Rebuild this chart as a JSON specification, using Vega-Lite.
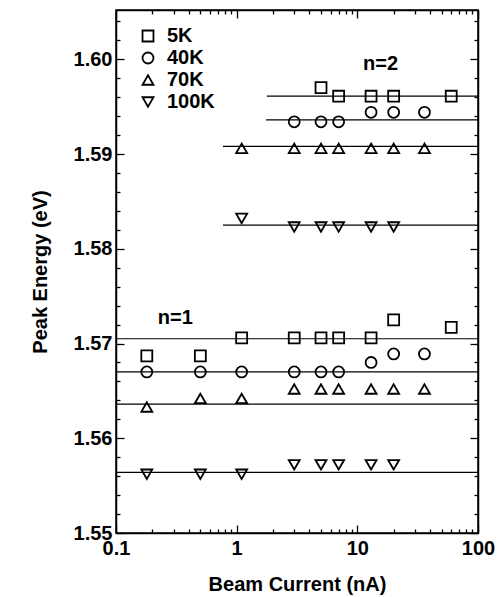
{
  "$schema": "https://vega.github.io/schema/vega-lite/v6.json",
  "width": 362,
  "height": 523,
  "autosize": {"type": "none"},
  "padding": {"left": 116, "top": 10, "right": 20, "bottom": 64},
  "config": {
    "view": {"stroke": "black", "strokeWidth": 1.5},
    "font": "Liberation Sans",
    "axis": {
      "domainColor": "black", "domainWidth": 1.5,
      "tickColor": "black", "tickWidth": 1.3,
      "labelFont": "Liberation Sans", "labelFontWeight": "bold", "labelFontSize": 20, "labelColor": "black",
      "titleFont": "Liberation Sans", "titleFontWeight": "bold", "titleFontSize": 20, "titleColor": "black",
      "grid": false, "labelFlush": false, "labelOverlap": false
    },
    "legend": {
      "labelFont": "Liberation Sans", "labelFontWeight": "bold", "labelFontSize": 20, "labelColor": "black"
    }
  },
  "datasets": {
    "points2": [
      {"temp": "5K", "current": 5, "energy": 1.5970},
      {"temp": "5K", "current": 7, "energy": 1.5961},
      {"temp": "5K", "current": 13, "energy": 1.5961},
      {"temp": "5K", "current": 20, "energy": 1.5961},
      {"temp": "5K", "current": 60, "energy": 1.5961},
      {"temp": "40K", "current": 3, "energy": 1.5934},
      {"temp": "40K", "current": 5, "energy": 1.5934},
      {"temp": "40K", "current": 7, "energy": 1.5934},
      {"temp": "40K", "current": 13, "energy": 1.5944},
      {"temp": "40K", "current": 20, "energy": 1.5944},
      {"temp": "40K", "current": 36, "energy": 1.5944},
      {"temp": "70K", "current": 1.1, "energy": 1.5906},
      {"temp": "70K", "current": 3, "energy": 1.5906},
      {"temp": "70K", "current": 5, "energy": 1.5906},
      {"temp": "70K", "current": 7, "energy": 1.5906},
      {"temp": "70K", "current": 13, "energy": 1.5906},
      {"temp": "70K", "current": 20, "energy": 1.5906},
      {"temp": "70K", "current": 36, "energy": 1.5906},
      {"temp": "100K", "current": 1.1, "energy": 1.5832},
      {"temp": "100K", "current": 3, "energy": 1.5823},
      {"temp": "100K", "current": 5, "energy": 1.5823},
      {"temp": "100K", "current": 7, "energy": 1.5823},
      {"temp": "100K", "current": 13, "energy": 1.5823},
      {"temp": "100K", "current": 20, "energy": 1.5823}
    ],
    "points1": [
      {"temp": "5K", "current": 0.18, "energy": 1.5687},
      {"temp": "5K", "current": 0.5, "energy": 1.5687},
      {"temp": "5K", "current": 1.1, "energy": 1.5706},
      {"temp": "5K", "current": 3, "energy": 1.5706},
      {"temp": "5K", "current": 5, "energy": 1.5706},
      {"temp": "5K", "current": 7, "energy": 1.5706},
      {"temp": "5K", "current": 13, "energy": 1.5706},
      {"temp": "5K", "current": 20, "energy": 1.5725},
      {"temp": "5K", "current": 60, "energy": 1.5717},
      {"temp": "40K", "current": 0.18, "energy": 1.5670},
      {"temp": "40K", "current": 0.5, "energy": 1.5670},
      {"temp": "40K", "current": 1.1, "energy": 1.5670},
      {"temp": "40K", "current": 3, "energy": 1.5670},
      {"temp": "40K", "current": 5, "energy": 1.5670},
      {"temp": "40K", "current": 7, "energy": 1.5670},
      {"temp": "40K", "current": 13, "energy": 1.5680},
      {"temp": "40K", "current": 20, "energy": 1.5689},
      {"temp": "40K", "current": 36, "energy": 1.5689},
      {"temp": "70K", "current": 0.18, "energy": 1.5633},
      {"temp": "70K", "current": 0.5, "energy": 1.5642},
      {"temp": "70K", "current": 1.1, "energy": 1.5642},
      {"temp": "70K", "current": 3, "energy": 1.5652},
      {"temp": "70K", "current": 5, "energy": 1.5652},
      {"temp": "70K", "current": 7, "energy": 1.5652},
      {"temp": "70K", "current": 13, "energy": 1.5652},
      {"temp": "70K", "current": 20, "energy": 1.5652},
      {"temp": "70K", "current": 36, "energy": 1.5652},
      {"temp": "100K", "current": 0.18, "energy": 1.5562},
      {"temp": "100K", "current": 0.5, "energy": 1.5562},
      {"temp": "100K", "current": 1.1, "energy": 1.5562},
      {"temp": "100K", "current": 3, "energy": 1.5572},
      {"temp": "100K", "current": 5, "energy": 1.5572},
      {"temp": "100K", "current": 7, "energy": 1.5572},
      {"temp": "100K", "current": 13, "energy": 1.5572},
      {"temp": "100K", "current": 20, "energy": 1.5572}
    ],
    "lines": [
      {"temp": "5K", "n": 2, "start": 1.78, "end": 100, "energy": 1.5961},
      {"temp": "40K", "n": 2, "start": 1.75, "end": 100, "energy": 1.5936},
      {"temp": "70K", "n": 2, "start": 0.77, "end": 100, "energy": 1.5908},
      {"temp": "100K", "n": 2, "start": 0.77, "end": 100, "energy": 1.5825},
      {"temp": "5K", "n": 1, "start": 0.1, "end": 100, "energy": 1.5705},
      {"temp": "40K", "n": 1, "start": 0.1, "end": 100, "energy": 1.5670},
      {"temp": "70K", "n": 1, "start": 0.1, "end": 100, "energy": 1.5636},
      {"temp": "100K", "n": 1, "start": 0.1, "end": 100, "energy": 1.5564}
    ],
    "notes": [
      {"label": "n=2", "current": 15.6, "energy": 1.5995},
      {"label": "n=1", "current": 0.31, "energy": 1.5727}
    ]
  },
  "layer": [
    {
      "data": {"name": "lines"},
      "mark": {"type": "rule", "color": "black", "strokeWidth": 1.2},
      "encoding": {
        "x": {
          "field": "start", "type": "quantitative",
          "scale": {"type": "log", "domain": [0.1, 100], "nice": false},
          "axis": {
            "orient": "bottom", "title": "Beam Current (nA)",
            "values": [0.1, 1, 10, 100], "format": "~g",
            "tickSize": -8, "labelPadding": 13, "titlePadding": 16
          }
        },
        "x2": {"field": "end"},
        "y": {
          "field": "energy", "type": "quantitative",
          "scale": {"domain": [1.55, 1.6052], "nice": false, "zero": false},
          "axis": {
            "orient": "left", "title": "Peak Energy (eV)",
            "values": [1.55, 1.56, 1.57, 1.58, 1.59, 1.60], "format": ".2f",
            "tickSize": -8, "labelPadding": 12, "titlePadding": 23
          }
        }
      }
    },
    {
      "data": {"name": "points2"},
      "mark": {"type": "point", "filled": false, "size": 120, "strokeWidth": 1.8, "color": "black", "opacity": 1},
      "encoding": {
        "x": {
          "field": "current", "type": "quantitative",
          "axis": {"orient": "top", "title": null, "labels": false, "values": [0.1, 1, 10, 100], "tickSize": -8}
        },
        "y": {
          "field": "energy", "type": "quantitative",
          "axis": {"orient": "right", "title": null, "labels": false, "values": [1.55, 1.56, 1.57, 1.58, 1.59, 1.60], "tickSize": -8}
        },
        "shape": {
          "field": "temp", "type": "nominal",
          "scale": {"domain": ["5K", "40K", "70K", "100K"], "range": ["square", "circle", "triangle-up", "triangle-down"]},
          "legend": {
            "title": null, "orient": "none", "legendX": 22, "legendY": 16,
            "padding": 0, "rowPadding": 2, "labelOffset": 9,
            "symbolSize": 120, "symbolStrokeWidth": 1.8, "symbolStrokeColor": "black", "symbolFillColor": "transparent"
          }
        }
      }
    },
    {
      "data": {"name": "points1"},
      "mark": {"type": "point", "filled": false, "size": 120, "strokeWidth": 1.8, "color": "black", "opacity": 1},
      "encoding": {
        "x": {
          "field": "current", "type": "quantitative",
          "axis": {"orient": "bottom", "title": null, "labels": false, "domain": false, "tickSize": -4,
            "values": [0.2,0.3,0.4,0.5,0.6,0.7,0.8,0.9,2,3,4,5,6,7,8,9,20,30,40,50,60,70,80,90]}
        },
        "y": {
          "field": "energy", "type": "quantitative",
          "axis": {"orient": "left", "title": null, "labels": false, "domain": false, "tickSize": -4,
            "values": [1.552,1.554,1.556,1.558,1.562,1.564,1.566,1.568,1.572,1.574,1.576,1.578,1.582,1.584,1.586,1.588,1.592,1.594,1.596,1.598,1.602,1.604]}
        },
        "shape": {
          "field": "temp", "type": "nominal",
          "scale": {"domain": ["5K", "40K", "70K", "100K"], "range": ["square", "circle", "triangle-up", "triangle-down"]},
          "legend": {
            "title": null, "orient": "none", "legendX": 22, "legendY": 16,
            "padding": 0, "rowPadding": 2, "labelOffset": 9,
            "symbolSize": 120, "symbolStrokeWidth": 1.8, "symbolStrokeColor": "black", "symbolFillColor": "transparent"
          }
        }
      }
    },
    {
      "data": {"name": "notes"},
      "mark": {"type": "text", "font": "Liberation Sans", "fontWeight": "bold", "fontSize": 20, "color": "black"},
      "encoding": {
        "x": {
          "field": "current", "type": "quantitative",
          "axis": {"orient": "top", "title": null, "labels": false, "domain": false, "tickSize": -4,
            "values": [0.2,0.3,0.4,0.5,0.6,0.7,0.8,0.9,2,3,4,5,6,7,8,9,20,30,40,50,60,70,80,90]}
        },
        "y": {
          "field": "energy", "type": "quantitative",
          "axis": {"orient": "right", "title": null, "labels": false, "domain": false, "tickSize": -4,
            "values": [1.552,1.554,1.556,1.558,1.562,1.564,1.566,1.568,1.572,1.574,1.576,1.578,1.582,1.584,1.586,1.588,1.592,1.594,1.596,1.598,1.602,1.604]}
        },
        "text": {"field": "label"}
      }
    }
  ],
  "resolve": {"axis": {"x": "independent", "y": "independent"}}
}
